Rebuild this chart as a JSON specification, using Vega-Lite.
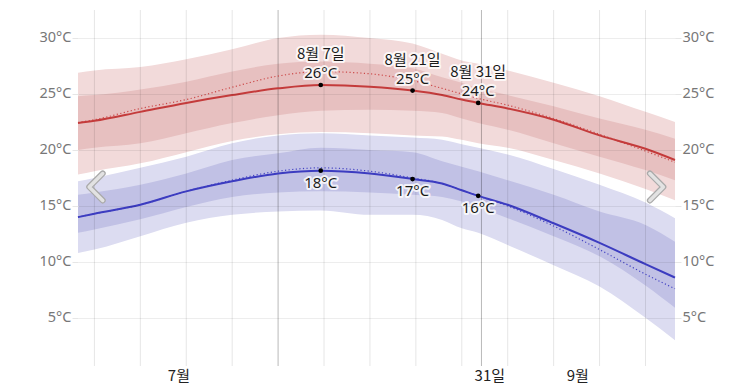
{
  "$schema": "https://vega.github.io/schema/vega-lite/v6.json",
  "width": 597,
  "height": 356,
  "autosize": {"type": "none"},
  "padding": {"left": 78, "top": 10, "right": 78, "bottom": 21},
  "config": {"view": {"stroke": null}, "font": "Noto Sans, Noto Sans CJK KR, sans-serif"},
  "datasets": {
    "clim": [
      {"t": 0.5, "h90": 26.9, "h75": 24.8, "h": 22.4, "h25": 20.0, "h10": 17.8, "hf": 22.45, "l90": 17.2, "l75": 16.0, "l": 14.0, "l25": 12.6, "l10": 10.8, "lf": 14.0},
      {"t": 3, "h90": 27.1, "h75": 24.9, "h": 22.6, "h25": 20.2, "h10": 18.1, "hf": 22.7, "l90": 17.5, "l75": 16.2, "l": 14.3, "l25": 12.9, "l10": 11.1, "lf": 14.3},
      {"t": 10, "h90": 27.4, "h75": 25.4, "h": 23.4, "h25": 20.6, "h10": 18.8, "hf": 23.7, "l90": 18.4, "l75": 16.9, "l": 15.1, "l25": 13.8, "l10": 12.3, "lf": 15.1},
      {"t": 17, "h90": 28.1, "h75": 26.1, "h": 24.2, "h25": 21.5, "h10": 19.8, "hf": 24.5, "l90": 19.4, "l75": 17.9, "l": 16.3, "l25": 14.9, "l10": 13.5, "lf": 16.3},
      {"t": 24, "h90": 29.0, "h75": 27.0, "h": 24.9, "h25": 22.4, "h10": 20.8, "hf": 25.6, "l90": 20.6, "l75": 19.1, "l": 17.2, "l25": 15.8, "l10": 14.2, "lf": 17.3},
      {"t": 31, "h90": 30.0, "h75": 27.7, "h": 25.5, "h25": 23.1, "h10": 21.4, "hf": 26.6, "l90": 21.3, "l75": 19.7, "l": 17.9, "l25": 16.2, "l10": 14.5, "lf": 18.1},
      {"t": 37.5, "h90": 30.3, "h75": 27.9, "h": 25.8, "h25": 23.5, "h10": 21.6, "hf": 27.0, "l90": 21.5, "l75": 20.2, "l": 18.15, "l25": 16.3, "l10": 14.6, "lf": 18.4},
      {"t": 45, "h90": 30.0, "h75": 27.7, "h": 25.65, "h25": 23.6, "h10": 21.5, "hf": 26.8, "l90": 21.3, "l75": 20.0, "l": 17.9, "l25": 16.2, "l10": 14.2, "lf": 18.1},
      {"t": 51.5, "h90": 29.5, "h75": 27.3, "h": 25.3, "h25": 23.5, "h10": 21.3, "hf": 26.2, "l90": 21.1, "l75": 19.8, "l": 17.4, "l25": 16.0, "l10": 14.2, "lf": 17.5},
      {"t": 56, "h90": 28.6, "h75": 26.5, "h": 24.9, "h25": 23.3, "h10": 21.2, "hf": 25.5, "l90": 20.9, "l75": 19.0, "l": 17.0, "l25": 15.8, "l10": 13.75, "lf": 17.0},
      {"t": 59, "h90": 28.0, "h75": 26.0, "h": 24.5, "h25": 22.8, "h10": 20.9, "hf": 25.0, "l90": 20.5, "l75": 18.5, "l": 16.4, "l25": 15.4, "l10": 13.0, "lf": 16.4},
      {"t": 61.5, "h90": 27.7, "h75": 25.5, "h": 24.2, "h25": 22.4, "h10": 20.6, "hf": 24.6, "l90": 20.2, "l75": 18.1, "l": 15.9, "l25": 14.9, "l10": 12.6, "lf": 15.9},
      {"t": 66, "h90": 27.1, "h75": 24.9, "h": 23.7, "h25": 21.8, "h10": 20.2, "hf": 24.0, "l90": 19.6, "l75": 17.3, "l": 15.1, "l25": 13.9, "l10": 11.5, "lf": 15.0},
      {"t": 73, "h90": 26.0, "h75": 23.9, "h": 22.7, "h25": 20.6, "h10": 19.1, "hf": 22.8, "l90": 18.3, "l75": 16.0, "l": 13.45, "l25": 12.3, "l10": 9.7, "lf": 13.2},
      {"t": 80, "h90": 24.8, "h75": 22.8, "h": 21.3, "h25": 19.4, "h10": 17.9, "hf": 21.4, "l90": 16.9, "l75": 14.5, "l": 11.7, "l25": 10.5, "l10": 7.8, "lf": 11.1},
      {"t": 87, "h90": 23.4, "h75": 21.8, "h": 20.1, "h25": 18.2, "h10": 16.5, "hf": 19.9, "l90": 15.3, "l75": 13.3, "l": 9.8, "l25": 7.9, "l10": 5.0, "lf": 8.9},
      {"t": 91.5, "h90": 22.5, "h75": 21.0, "h": 19.1, "h25": 17.3, "h10": 15.5, "hf": 18.9, "l90": 13.9, "l75": 11.8, "l": 8.6, "l25": 5.9, "l10": 3.0, "lf": 7.6}
    ],
    "weeks": [{"t": 3}, {"t": 10}, {"t": 17}, {"t": 24}, {"t": 38}, {"t": 45}, {"t": 52}, {"t": 59}, {"t": 66}, {"t": 73}, {"t": 80}, {"t": 87}],
    "months": [{"t": 31}, {"t": 62}],
    "marks": [
      {"t": 37.5, "h": 25.8, "l": 18.15, "date": "8월 7일", "hl": "26°C", "ll": "18°C"},
      {"t": 51.5, "h": 25.3, "l": 17.4, "date": "8월 21일", "hl": "25°C", "ll": "17°C"},
      {"t": 61.5, "h": 24.2, "l": 15.9, "date": "8월 31일", "hl": "24°C", "ll": "16°C"}
    ],
    "nav": [{"t": 3.24, "v": 16.69, "side": "left"}, {"t": 88.7, "v": 16.69, "side": "right"}]
  },
  "layer": [
    {
      "data": {"name": "clim"},
      "mark": {"type": "area", "color": "#f2dada", "interpolate": "monotone"},
      "encoding": {
        "x": {"field": "t", "type": "quantitative", "scale": {"domain": [0.5, 91.5], "nice": false, "zero": false},
          "axis": {"orient": "bottom", "values": [15.8, 63.2, 76.6], "labelExpr": "datum.value < 30 ? '7월' : (datum.value < 70 ? '31일' : '9월')", "domain": false, "ticks": false, "grid": false, "labelColor": "#222", "labelFontSize": 15, "labelPadding": 2, "labelFont": "Noto Sans CJK KR", "title": null}},
        "y": {"field": "h90", "type": "quantitative", "scale": {"domain": [0.7, 32.5], "nice": false, "zero": false},
          "axis": {"orient": "left", "values": [5, 10, 15, 20, 25, 30], "labelExpr": "datum.value + '°C'", "domain": false, "tickSize": 6, "tickColor": "#e6e6e6", "grid": true, "gridColor": "#000", "gridOpacity": 0.07, "zindex": 1, "labelColor": "#777", "labelFontSize": 14.5, "labelPadding": 1, "title": null}},
        "y2": {"field": "h10"}
      }
    },
    {
      "data": {"name": "clim"},
      "mark": {"type": "area", "color": "#e7c0c0", "interpolate": "monotone"},
      "encoding": {
        "x": {"field": "t", "type": "quantitative", "axis": null},
        "y": {"field": "h75", "type": "quantitative", "axis": null},
        "y2": {"field": "h25"}
      }
    },
    {
      "data": {"name": "clim"},
      "mark": {"type": "area", "color": "#dcdcf1", "interpolate": "monotone"},
      "encoding": {
        "x": {"field": "t", "type": "quantitative", "axis": null},
        "y": {"field": "l90", "type": "quantitative",
          "axis": {"orient": "right", "values": [5, 10, 15, 20, 25, 30], "labelExpr": "datum.value + '°C'", "domain": false, "tickSize": 6, "tickColor": "#e6e6e6", "grid": false, "labelColor": "#777", "labelFontSize": 14.5, "labelPadding": 1, "title": null}},
        "y2": {"field": "l10"}
      }
    },
    {
      "data": {"name": "clim"},
      "mark": {"type": "area", "color": "#c1c1e5", "interpolate": "monotone"},
      "encoding": {
        "x": {"field": "t", "type": "quantitative", "axis": null},
        "y": {"field": "l75", "type": "quantitative", "axis": null},
        "y2": {"field": "l25"}
      }
    },
    {
      "data": {"name": "weeks"},
      "mark": {"type": "rule", "color": "#000", "strokeOpacity": 0.1, "strokeWidth": 1},
      "encoding": {"x": {"field": "t", "type": "quantitative", "axis": null}}
    },
    {
      "data": {"name": "months"},
      "mark": {"type": "rule", "color": "#000", "strokeOpacity": 0.28, "strokeWidth": 1},
      "encoding": {"x": {"field": "t", "type": "quantitative", "axis": null}}
    },
    {
      "data": {"name": "clim"},
      "mark": {"type": "line", "color": "#cc4a4a", "strokeWidth": 1.2, "strokeDash": [1.2, 2.4], "interpolate": "monotone"},
      "encoding": {
        "x": {"field": "t", "type": "quantitative", "axis": null},
        "y": {"field": "hf", "type": "quantitative", "axis": null}
      }
    },
    {
      "data": {"name": "clim"},
      "mark": {"type": "line", "color": "#4545c4", "strokeWidth": 1.2, "strokeDash": [1.2, 2.4], "interpolate": "monotone"},
      "encoding": {
        "x": {"field": "t", "type": "quantitative", "axis": null},
        "y": {"field": "lf", "type": "quantitative", "axis": null}
      }
    },
    {
      "data": {"name": "clim"},
      "mark": {"type": "line", "color": "#c43b3b", "strokeWidth": 2, "interpolate": "monotone"},
      "encoding": {
        "x": {"field": "t", "type": "quantitative", "axis": null},
        "y": {"field": "h", "type": "quantitative", "axis": null}
      }
    },
    {
      "data": {"name": "clim"},
      "mark": {"type": "line", "color": "#3c3cc0", "strokeWidth": 2, "interpolate": "monotone"},
      "encoding": {
        "x": {"field": "t", "type": "quantitative", "axis": null},
        "y": {"field": "l", "type": "quantitative", "axis": null}
      }
    },
    {
      "data": {"name": "marks"},
      "mark": {"type": "point", "filled": true, "color": "#000", "size": 22, "opacity": 1},
      "encoding": {
        "x": {"field": "t", "type": "quantitative", "axis": null},
        "y": {"field": "h", "type": "quantitative", "axis": null}
      }
    },
    {
      "data": {"name": "marks"},
      "mark": {"type": "point", "filled": true, "color": "#000", "size": 22, "opacity": 1},
      "encoding": {
        "x": {"field": "t", "type": "quantitative", "axis": null},
        "y": {"field": "l", "type": "quantitative", "axis": null}
      }
    },
    {
      "data": {"name": "marks"},
      "mark": {"type": "text", "dy": -31, "fontSize": 15, "font": "Noto Sans CJK KR", "stroke": "#fff", "strokeWidth": 4, "strokeOpacity": 0.8, "strokeJoin": "round", "fill": "#fff"},
      "encoding": {
        "x": {"field": "t", "type": "quantitative", "axis": null},
        "y": {"field": "h", "type": "quantitative", "axis": null},
        "text": {"field": "date"}
      }
    },
    {
      "data": {"name": "marks"},
      "mark": {"type": "text", "dy": -12, "fontSize": 15, "stroke": "#fff", "strokeWidth": 4, "strokeOpacity": 0.8, "strokeJoin": "round", "fill": "#fff"},
      "encoding": {
        "x": {"field": "t", "type": "quantitative", "axis": null},
        "y": {"field": "h", "type": "quantitative", "axis": null},
        "text": {"field": "hl"}
      }
    },
    {
      "data": {"name": "marks"},
      "mark": {"type": "text", "dy": 12, "fontSize": 15, "stroke": "#fff", "strokeWidth": 4, "strokeOpacity": 0.8, "strokeJoin": "round", "fill": "#fff"},
      "encoding": {
        "x": {"field": "t", "type": "quantitative", "axis": null},
        "y": {"field": "l", "type": "quantitative", "axis": null},
        "text": {"field": "ll"}
      }
    },
    {
      "data": {"name": "marks"},
      "mark": {"type": "text", "dy": -31, "fontSize": 15, "font": "Noto Sans CJK KR", "color": "#1a1a1a"},
      "encoding": {
        "x": {"field": "t", "type": "quantitative", "axis": null},
        "y": {"field": "h", "type": "quantitative", "axis": null},
        "text": {"field": "date"}
      }
    },
    {
      "data": {"name": "marks"},
      "mark": {"type": "text", "dy": -12, "fontSize": 15, "color": "#1a1a1a"},
      "encoding": {
        "x": {"field": "t", "type": "quantitative", "axis": null},
        "y": {"field": "h", "type": "quantitative", "axis": null},
        "text": {"field": "hl"}
      }
    },
    {
      "data": {"name": "marks"},
      "mark": {"type": "text", "dy": 12, "fontSize": 15, "color": "#1a1a1a"},
      "encoding": {
        "x": {"field": "t", "type": "quantitative", "axis": null},
        "y": {"field": "l", "type": "quantitative", "axis": null},
        "text": {"field": "ll"}
      }
    },
    {
      "data": {"name": "nav"},
      "transform": [{"filter": "datum.side == 'left'"}],
      "mark": {"type": "point", "shape": "M0.5,-1L-0.5,0L0.5,1", "size": 729, "filled": false, "stroke": "#aaaaaa", "strokeWidth": 6, "strokeCap": "round", "strokeJoin": "round", "opacity": 1},
      "encoding": {
        "x": {"field": "t", "type": "quantitative", "axis": null},
        "y": {"field": "v", "type": "quantitative", "axis": null}
      }
    },
    {
      "data": {"name": "nav"},
      "transform": [{"filter": "datum.side == 'left'"}],
      "mark": {"type": "point", "shape": "M0.5,-1L-0.5,0L0.5,1", "size": 729, "filled": false, "stroke": "#e2e2e2", "strokeWidth": 3.5, "strokeCap": "round", "strokeJoin": "round", "opacity": 1},
      "encoding": {
        "x": {"field": "t", "type": "quantitative", "axis": null},
        "y": {"field": "v", "type": "quantitative", "axis": null}
      }
    },
    {
      "data": {"name": "nav"},
      "transform": [{"filter": "datum.side == 'right'"}],
      "mark": {"type": "point", "shape": "M-0.5,-1L0.5,0L-0.5,1", "size": 729, "filled": false, "stroke": "#aaaaaa", "strokeWidth": 6, "strokeCap": "round", "strokeJoin": "round", "opacity": 1},
      "encoding": {
        "x": {"field": "t", "type": "quantitative", "axis": null},
        "y": {"field": "v", "type": "quantitative", "axis": null}
      }
    },
    {
      "data": {"name": "nav"},
      "transform": [{"filter": "datum.side == 'right'"}],
      "mark": {"type": "point", "shape": "M-0.5,-1L0.5,0L-0.5,1", "size": 729, "filled": false, "stroke": "#e2e2e2", "strokeWidth": 3.5, "strokeCap": "round", "strokeJoin": "round", "opacity": 1},
      "encoding": {
        "x": {"field": "t", "type": "quantitative", "axis": null},
        "y": {"field": "v", "type": "quantitative", "axis": null}
      }
    }
  ],
  "resolve": {"axis": {"x": "independent", "y": "independent"}}
}
